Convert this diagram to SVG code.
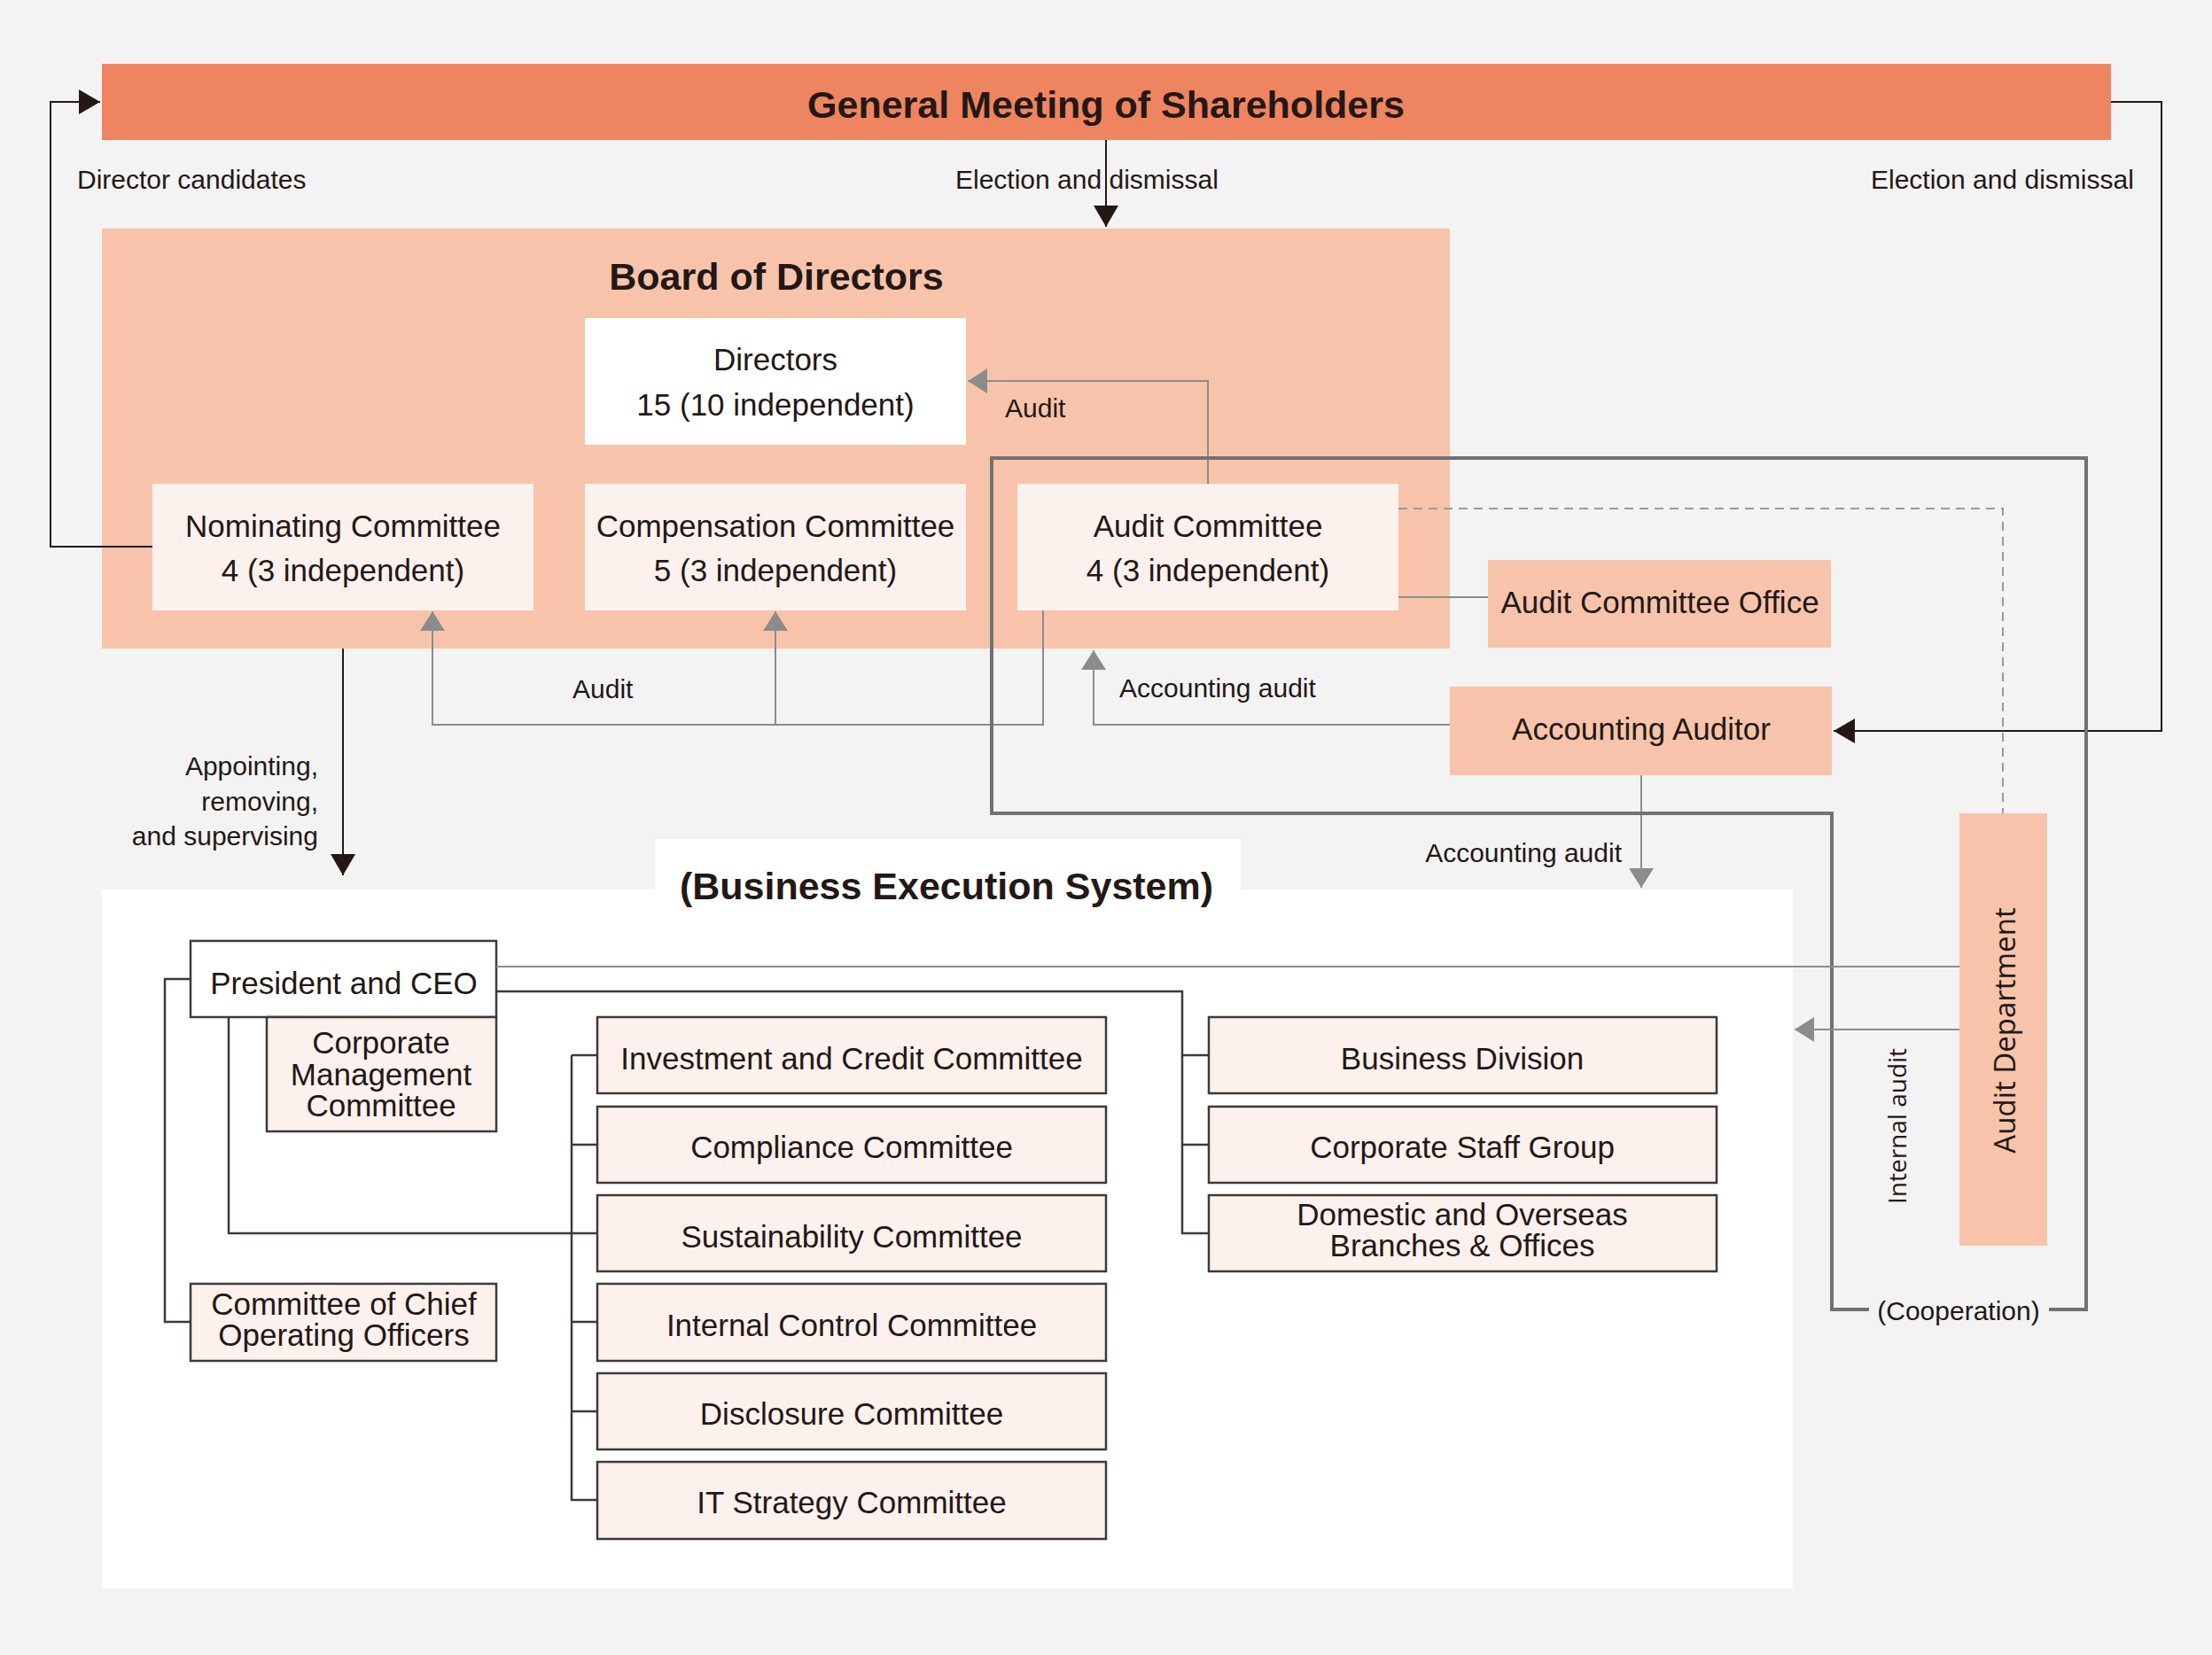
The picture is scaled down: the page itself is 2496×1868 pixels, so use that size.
<svg xmlns="http://www.w3.org/2000/svg" width="2496" height="1868" viewBox="0 0 2496 1868">
<style>
.t{font-family:"Liberation Sans",Arial,sans-serif;fill:#231815}
.box{font-size:35px;text-anchor:middle}
.lbl{font-size:30px}
.ttl{font-size:43px;font-weight:bold;text-anchor:middle}
.v{font-family:"Open Sans","DejaVu Sans",sans-serif;fill:#231815}
.peach{fill:#F7C4AB}
.light{fill:#FCF1EC}
.cbox{fill:#FCF1EC;stroke:#3e3a39;stroke-width:2.5}
.dk{fill:none;stroke:#231815;stroke-width:2}
.dk2{fill:none;stroke:#3e3a39;stroke-width:2.5}
.gr{fill:none;stroke:#8c8c8c;stroke-width:2}
.thick{fill:none;stroke:#727171;stroke-width:4}
.dash{fill:none;stroke:#9a9a9a;stroke-width:2;stroke-dasharray:10 7}
</style>
<defs>
<marker id="ab" markerUnits="userSpaceOnUse" markerWidth="26" markerHeight="30" refX="24" refY="14" orient="auto"><path d="M0,0 L24,14 L0,28 Z" fill="#231815"/></marker>
<marker id="ag" markerUnits="userSpaceOnUse" markerWidth="24" markerHeight="30" refX="22" refY="14" orient="auto"><path d="M0,0 L22,14 L0,28 Z" fill="#8c8c8c"/></marker>
</defs>
<rect x="0" y="0" width="2496" height="1868" fill="#F3F3F3"/>

<g id="gms">
<rect x="115" y="72" width="2267" height="86" fill="#EF8560"/>
<text class="t ttl" x="1248" y="133">General Meeting of Shareholders</text>
</g>

<g id="board">
<rect class="peach" x="115" y="258" width="1521" height="474"/>
<text class="t ttl" x="876" y="327">Board of Directors</text>
</g>

<g id="directors">
<rect x="660" y="359" width="430" height="143" fill="#ffffff"/>
<text class="t box" x="875" y="418">Directors</text>
<text class="t box" x="875" y="469">15 (10 independent)</text>
</g>

<g id="nominating">
<rect class="light" x="172" y="546" width="430" height="143"/>
<text class="t box" x="387" y="606">Nominating Committee</text>
<text class="t box" x="387" y="656">4 (3 independent)</text>
</g>

<g id="compensation">
<rect class="light" x="660" y="546" width="430" height="143"/>
<text class="t box" x="875" y="606">Compensation Committee</text>
<text class="t box" x="875" y="656">5 (3 independent)</text>
</g>

<g id="auditcommittee">
<rect class="light" x="1148" y="546" width="430" height="143"/>
<text class="t box" x="1363" y="606">Audit Committee</text>
<text class="t box" x="1363" y="656">4 (3 independent)</text>
</g>

<g id="acoffice">
<rect class="peach" x="1679" y="632" width="387" height="99"/>
<text class="t box" x="1873" y="692">Audit Committee Office</text>
</g>

<g id="accountingauditor">
<rect class="peach" x="1636" y="775" width="431" height="100"/>
<text class="t box" x="1852" y="835">Accounting Auditor</text>
</g>

<g id="auditdept">
<rect class="peach" x="2211" y="918" width="99" height="488"/>
<text class="v" font-size="33" text-anchor="middle" transform="translate(2274,1163) rotate(-90)">Audit Department</text>
</g>

<g id="execution">
<path d="M115,1004 H739 V947 H1400 V1004 H2023 V1793 H115 Z" fill="#ffffff"/>
<text class="t ttl" x="1068" y="1015">(Business Execution System)</text>
</g>

<g id="president">
<rect x="215" y="1062" width="345" height="86" fill="#ffffff" stroke="#3e3a39" stroke-width="2.5"/>
<text class="t box" x="388" y="1122">President and CEO</text>
</g>

<g id="cmc">
<rect class="cbox" x="301" y="1148" width="259" height="129"/>
<text class="t box" x="430" y="1189">Corporate</text>
<text class="t box" x="430" y="1225">Management</text>
<text class="t box" x="430" y="1260">Committee</text>
</g>

<g id="coo">
<rect class="cbox" x="215" y="1449" width="345" height="87"/>
<text class="t box" x="388" y="1484">Committee of Chief</text>
<text class="t box" x="388" y="1519">Operating Officers</text>
</g>

<g id="investment">
<rect class="cbox" x="674" y="1148" width="574" height="86"/>
<text class="t box" x="961" y="1207">Investment and Credit Committee</text>
</g>
<g id="compliance">
<rect class="cbox" x="674" y="1249" width="574" height="86"/>
<text class="t box" x="961" y="1307">Compliance Committee</text>
</g>
<g id="sustainability">
<rect class="cbox" x="674" y="1349" width="574" height="86"/>
<text class="t box" x="961" y="1408">Sustainability Committee</text>
</g>
<g id="internalcontrol">
<rect class="cbox" x="674" y="1449" width="574" height="87"/>
<text class="t box" x="961" y="1508">Internal Control Committee</text>
</g>
<g id="disclosure">
<rect class="cbox" x="674" y="1550" width="574" height="86"/>
<text class="t box" x="961" y="1608">Disclosure Committee</text>
</g>
<g id="itstrategy">
<rect class="cbox" x="674" y="1650" width="574" height="87"/>
<text class="t box" x="961" y="1708">IT Strategy Committee</text>
</g>

<g id="business">
<rect class="cbox" x="1364" y="1148" width="573" height="86"/>
<text class="t box" x="1650" y="1207">Business Division</text>
</g>
<g id="staff">
<rect class="cbox" x="1364" y="1249" width="573" height="86"/>
<text class="t box" x="1650" y="1307">Corporate Staff Group</text>
</g>
<g id="branches">
<rect class="cbox" x="1364" y="1349" width="573" height="86"/>
<text class="t box" x="1650" y="1383">Domestic and Overseas</text>
<text class="t box" x="1650" y="1418">Branches &amp; Offices</text>
</g>

<g id="connectors">
<path class="dk" d="M172,617 H57 V115 H113" marker-end="url(#ab)"/>
<path class="dk" d="M1248,158 V256" marker-end="url(#ab)"/>
<path class="dk" d="M2382,115 H2439 V825 H2069" marker-end="url(#ab)"/>
<path class="dk" d="M387,732 V988" marker-end="url(#ab)"/>
<path class="gr" d="M1363,546 V430 H1092" marker-end="url(#ag)"/>
<path class="gr" d="M1177,689 V818 H488 V690" marker-end="url(#ag)"/>
<path class="gr" d="M875,818 V690" marker-end="url(#ag)"/>
<path class="gr" d="M1636,818 H1234 V734" marker-end="url(#ag)"/>
<path class="gr" d="M1852,875 V1002" marker-end="url(#ag)"/>
<path class="gr" d="M1578,674 H1679"/>
<path class="dash" d="M1578,574 H2260 V918"/>
<path class="thick" d="M2109,1478 H2067 V918 H1119 V517 H2354 V1478 H2312"/>
<path class="gr" d="M2211,1091 H560"/>
<path class="gr" d="M2211,1162 H2025" marker-end="url(#ag)"/>
<path class="dk2" d="M560,1119 H1334 V1392 H1364 M1334,1191 H1364 M1334,1292 H1364"/>
<path class="dk2" d="M258,1148 V1392 H674 M645,1191 V1693 H674 M645,1191 H674 M645,1292 H674 M645,1492 H674 M645,1593 H674"/>
<path class="dk2" d="M215,1105 H186 V1492 H215"/>
<text class="t lbl" x="87" y="213">Director candidates</text>
<text class="t lbl" x="1078" y="213">Election and dismissal</text>
<text class="t lbl" x="2111" y="213">Election and dismissal</text>
<text class="t lbl" x="1134" y="471">Audit</text>
<text class="t lbl" x="646" y="788">Audit</text>
<text class="t lbl" x="1263" y="787">Accounting audit</text>
<text class="t lbl" x="1830" y="973" text-anchor="end">Accounting audit</text>
<text class="t lbl" x="359" y="875" text-anchor="end">Appointing,</text>
<text class="t lbl" x="359" y="915" text-anchor="end">removing,</text>
<text class="t lbl" x="359" y="954" text-anchor="end">and supervising</text>
<text class="t lbl" x="2210" y="1490" text-anchor="middle">(Cooperation)</text>
<text class="v" font-size="28" text-anchor="middle" transform="translate(2151,1271) rotate(-90)">Internal audit</text>
</g>
</svg>
